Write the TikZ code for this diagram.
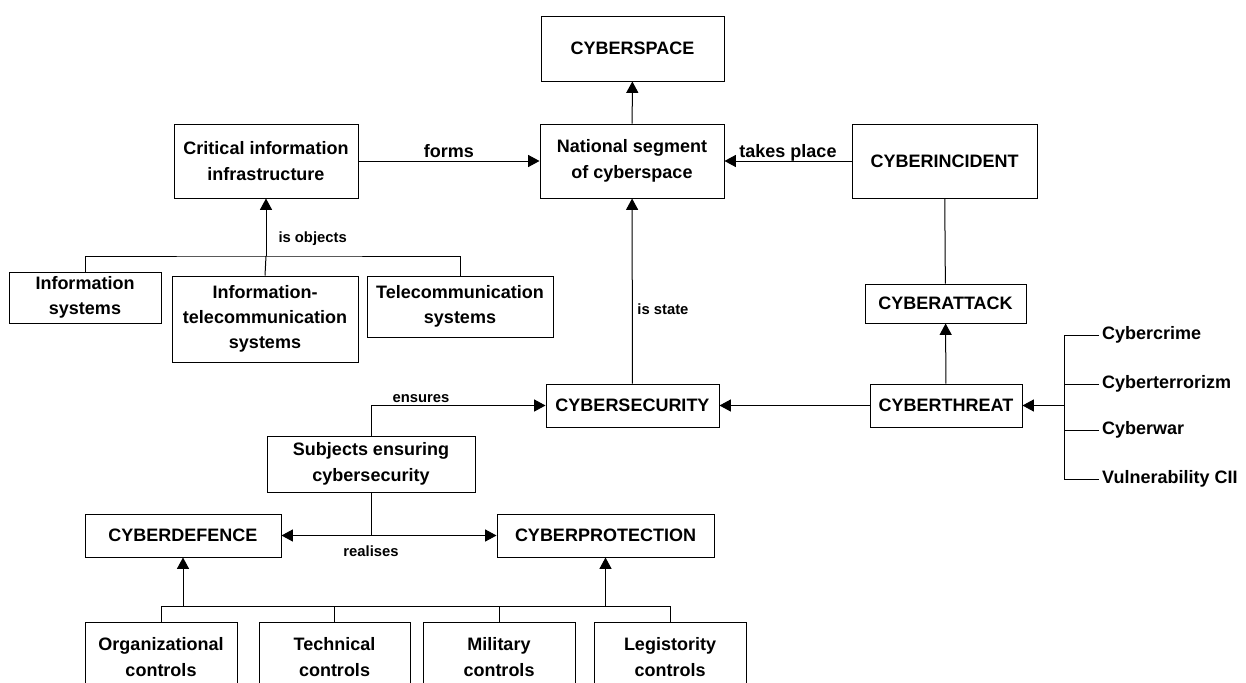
\documentclass[tikz,border=0pt]{standalone}
\usepackage{fontspec}
\setmainfont{Liberation Sans}
\usetikzlibrary{positioning,arrows.meta}
\def\px{0.75pt}
\tikzstyle{box}=[draw,rectangle,align=center,inner sep=0pt,font=\bfseries\fontsize{13.5}{19}\selectfont]
\tikzstyle{biglbl}=[inner sep=2pt,text depth=0pt,font=\bfseries\fontsize{13.5}{19}\selectfont]
\tikzstyle{lbl}=[inner sep=2pt,text depth=0pt,font=\bfseries\fontsize{11.1}{13}\selectfont]
\tikzstyle{item}=[anchor=west,inner sep=2pt,font=\bfseries\fontsize{13.5}{19}\selectfont]
\newcommand{\newBox}[5]{\node[box,minimum width=#4*\px,minimum height=#5*\px](#1) at (#3){#2};}
\newcommand{\newArrow}[4]{\draw[->] (#1) -- node[#4] {#3} (#2);}

\begin{document}
\begin{tikzpicture}[x=\px,y=-\px,
      >={Triangle[length=8.5pt,width=9pt]},
      line width=0.75pt
      ]
      \useasboundingbox (0,0) rectangle (1246,682);
      \clip (0,0) rectangle (1246,682);
      % top part
      \newBox{space}{CYBERSPACE}{632.5,48.5}{183}{65}
      \newBox{national}{National segment\\of cyberspace}{632,161}{184}{74}
      \newBox{cii}{Critical information\\infrastructure}{266,161}{184}{74}
      \newBox{incident}{CYBERINCIDENT}{944.5,161}{185}{74}
      \newBox{infsys}{Information\\systems}{85,297.5}{152}{51}
      \newBox{itsys}{Information-\\telecommunication\\systems}{265,319}{186}{86}
      \newBox{telsys}{Telecommunication\\systems}{460,306.5}{186}{61}
      % threats
      \newBox{attack}{CYBERATTACK}{945.5,303.5}{161}{39}
      \newBox{threat}{CYBERTHREAT}{946,405.5}{152}{43}
      \newBox{security}{CYBERSECURITY}{632.5,405.5}{173}{43}
      \node[item] (crime) at (1099,335) {Cybercrime};
      \node[item] (terror) at (1099,384) {Cyberterrorizm};
      \node[item] (war) at (1099,430) {Cyberwar};
      \node[item] (vuln) at (1099,479) {Vulnerability CII};
      % subjects and controls
      \newBox{subjects}{Subjects ensuring\\cybersecurity}{371,464}{208}{56}
      \newBox{defence}{CYBERDEFENCE}{183,535.5}{196}{43}
      \newBox{protection}{CYBERPROTECTION}{605.5,535.5}{217}{43}
      \newBox{org}{Organizational\\controls}{161,657}{152}{70}
      \newBox{tech}{Technical\\controls}{334.5,657}{151}{70}
      \newBox{mil}{Military\\controls}{499,657}{152}{70}
      \newBox{legis}{Legistority\\controls}{670,657}{152}{70}

      \newArrow{national}{space}{}{}
      \newArrow{cii}{national}{forms}{biglbl,above}
      \newArrow{incident}{national}{takes place}{biglbl,above}
      \draw (incident) -- (attack);
      \newArrow{threat}{attack}{}{}
      \newArrow{threat}{security}{}{}
      \newArrow{security}{national}{is state}{lbl,right=1.5pt,pos=0.4}

      \coordinate (objbus) at (266,256);
      \draw (infsys.north) |- (objbus) -| (telsys.north);
      \draw (itsys.north) -- (objbus);
      \draw[->] (objbus) -- node[lbl,right=7pt,pos=0.33]{is objects} (cii.south);

      \draw (crime.west) -- ++(-35,0) |- (vuln.west);
      \draw (terror.west) -- ++(-35,0);
      \draw (war.west) -- ++(-35,0);
      \coordinate (tb) at (1064,405.5);
      \draw[->] (tb) -- (threat.east);

      \draw[->] (subjects.north) |- node[lbl,above,pos=0.643]{ensures} (security.west);
      \coordinate (rl) at (subjects.south |- defence.east);
      \draw (subjects.south) -- (rl) node[lbl,below=5pt]{realises};
      \draw[<->] (defence.east) -- (protection.west);

      \coordinate (cb) at (0,606);
      \draw (org.north) |- (cb -| legis.north) -- (legis.north);
      \draw (tech.north) -- (cb -| tech.north);
      \draw (mil.north) -- (cb -| mil.north);
      \draw[->] (cb -| defence.south) -- (defence.south);
      \draw[->] (cb -| protection.south) -- (protection.south);
    \end{tikzpicture}
\end{document}
